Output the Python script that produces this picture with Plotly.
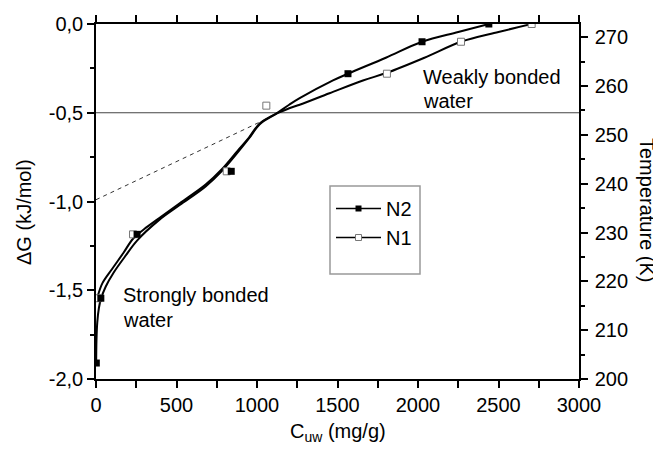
import plotly.graph_objects as go

# ---- data ----
n2_x = [2, 30, 255, 840, 1565, 2025, 2440]
n2_y = [-1.91, -1.545, -1.185, -0.83, -0.28, -0.10, 0.0]
n1_x = [12, 230, 812, 1058, 1807, 2267, 2706]
n1_y = [-1.545, -1.185, -0.83, -0.46, -0.28, -0.10, 0.0]

n2_fit_x = [1, 3, 8, 18, 30, 60, 110, 180, 255, 391, 520, 681, 780, 888, 950, 1017,
            1120, 1200, 1265, 1472, 1565, 1800, 2025, 2250, 2440]
n2_fit_y = [-1.92, -1.78, -1.68, -1.60, -1.55, -1.48, -1.40, -1.31, -1.22, -1.105, -1.02,
            -0.915, -0.83, -0.715, -0.645, -0.565, -0.505, -0.455, -0.418, -0.318, -0.28,
            -0.19, -0.10, -0.045, 0.0]
n1_fit_x = [12, 40, 100, 170, 230, 300, 391, 520, 681, 780, 888, 950, 1017, 1120, 1200,
            1265, 1450, 1658, 1807, 2040, 2267, 2500, 2706]
n1_fit_y = [-1.53, -1.46, -1.38, -1.29, -1.21, -1.155, -1.095, -1.01, -0.905, -0.82, -0.705,
            -0.64, -0.56, -0.505, -0.475, -0.455, -0.39, -0.318, -0.275, -0.19, -0.10,
            -0.045, 0.0]

dash_x = [0, 1070]
dash_y = [-0.99, -0.53]
hline_x = [0, 3000]
hline_y = [-0.5, -0.5]

x_ticks = [0, 500, 1000, 1500, 2000, 2500, 3000]
y_ticks = [-2.0, -1.5, -1.0, -0.5, 0.0]
y_ticktext = ["-2,0", "-1,5", "-1,0", "-0,5", "0,0"]
t_ticks = [200, 210, 220, 230, 240, 250, 260, 270]
t_range = [200, 272.7]

FONT = "Arial, Liberation Sans, sans-serif"
FS = 20

fig = go.Figure()
fig.add_trace(go.Scatter(x=hline_x, y=hline_y, mode="lines",
                         line=dict(color="#444444", width=1.2), showlegend=False))
fig.add_trace(go.Scatter(x=dash_x, y=dash_y, mode="lines",
                         line=dict(color="#333333", width=1, dash="4px,4px"), showlegend=False))
fig.add_trace(go.Scatter(x=n2_fit_x, y=n2_fit_y, mode="lines", line_shape="spline",
                         line=dict(color="black", width=2), showlegend=False))
fig.add_trace(go.Scatter(x=n1_fit_x, y=n1_fit_y, mode="lines", line_shape="spline",
                         line=dict(color="black", width=2), showlegend=False))
fig.add_trace(go.Scatter(x=n1_x, y=n1_y, mode="markers",
                         marker=dict(symbol="square", size=7, color="white",
                                     line=dict(color="#777777", width=1)), showlegend=False))
fig.add_trace(go.Scatter(x=n2_x, y=n2_y, mode="markers",
                         marker=dict(symbol="square", size=7, color="black",
                                     line=dict(color="black", width=0)), showlegend=False))
# legend entries
fig.add_trace(go.Scatter(x=[None], y=[None], mode="lines+markers", name="N2",
                         line=dict(color="black", width=1.5),
                         marker=dict(symbol="square", size=6, color="black")))
fig.add_trace(go.Scatter(x=[None], y=[None], mode="lines+markers", name="N1",
                         line=dict(color="black", width=1.5),
                         marker=dict(symbol="square", size=6, color="white",
                                     line=dict(color="#777777", width=1))))
# temperature axis carrier
fig.add_trace(go.Scatter(x=[None], y=[None], yaxis="y2", showlegend=False))

OFF = 8  # page body margin in the browser
SW, SH = 661, 452  # screenshot size
L_s, R_s, T_s, B_s = 96, 82, 24, 73  # plot-area edges in screenshot pixels
W, H = SW - OFF, SH - OFF
L, T = L_s - OFF, T_s - OFF
R, B = R_s, B_s
pw, ph = W - L - R, H - T - B

def px(xs):
    return (xs - OFF - L) / pw

def py(ys):
    return (H - B - (ys - OFF)) / ph

axis_common = dict(showline=True, linecolor="black", linewidth=1.5, ticks="outside",
                   tickwidth=1.5, ticklen=7, tickcolor="black", showgrid=False,
                   zeroline=False, automargin=False,
                   tickfont=dict(family=FONT, size=FS, color="black"))

def note(text, xs, ys, xanchor="center", angle=0):
    return dict(text=text, x=px(xs), y=py(ys), xref="paper", yref="paper",
                xanchor=xanchor, yanchor="middle", textangle=angle,
                showarrow=False, font=dict(family=FONT, size=FS, color="black"))

fig.update_layout(
    width=W, height=H,
    margin=dict(l=L, r=R, t=T, b=B),
    paper_bgcolor="white", plot_bgcolor="white",
    font=dict(family=FONT, size=FS, color="black"),
    xaxis=dict(range=[0, 3000], tickmode="array", tickvals=x_ticks,
               ticktext=[str(v) for v in x_ticks], mirror="allticks",
               minor=dict(dtick=250, tick0=0, ticks="outside", ticklen=4, tickwidth=1.5,
                          tickcolor="black"),
               **axis_common),
    yaxis=dict(range=[-2.0, 0.0], tickmode="array", tickvals=y_ticks, ticktext=y_ticktext,
               minor=dict(dtick=0.25, tick0=0, ticks="outside", ticklen=4, tickwidth=1.5,
                          tickcolor="black"),
               **axis_common),
    yaxis2=dict(range=t_range, overlaying="y", side="right", tickmode="array",
                tickvals=t_ticks, ticktext=[str(v) for v in t_ticks],
                ticklabelstandoff=3,
                minor=dict(dtick=5, tick0=200, ticks="outside", ticklen=4, tickwidth=1.5,
                           tickcolor="black"),
                **axis_common),
    legend=dict(x=px(331), y=py(189), xanchor="left", yanchor="top",
                bgcolor="rgba(0,0,0,0)", borderwidth=0, itemwidth=45,
                font=dict(family=FONT, size=FS, color="black"), tracegroupgap=0),
    shapes=[dict(type="rect", xref="paper", yref="paper", x0=px(330), x1=px(420),
                 y0=py(274), y1=py(186), line=dict(color="#999999", width=1.5),
                 fillcolor="white", layer="above")],
    annotations=[
        note("ΔG (kJ/mol)", 24, 212, angle=-90),
        note("Temperature (K)", 647, 210, angle=90),
        note("C<sub>uw</sub> (mg/g)", 338, 432),
        note("Strongly bonded", 121, 295, xanchor="left"),
        note("water", 121, 320, xanchor="left"),
        note("Weakly bonded", 421, 77, xanchor="left"),
        note("water", 421, 101, xanchor="left"),
    ],
)

fig.write_html("out.html")
